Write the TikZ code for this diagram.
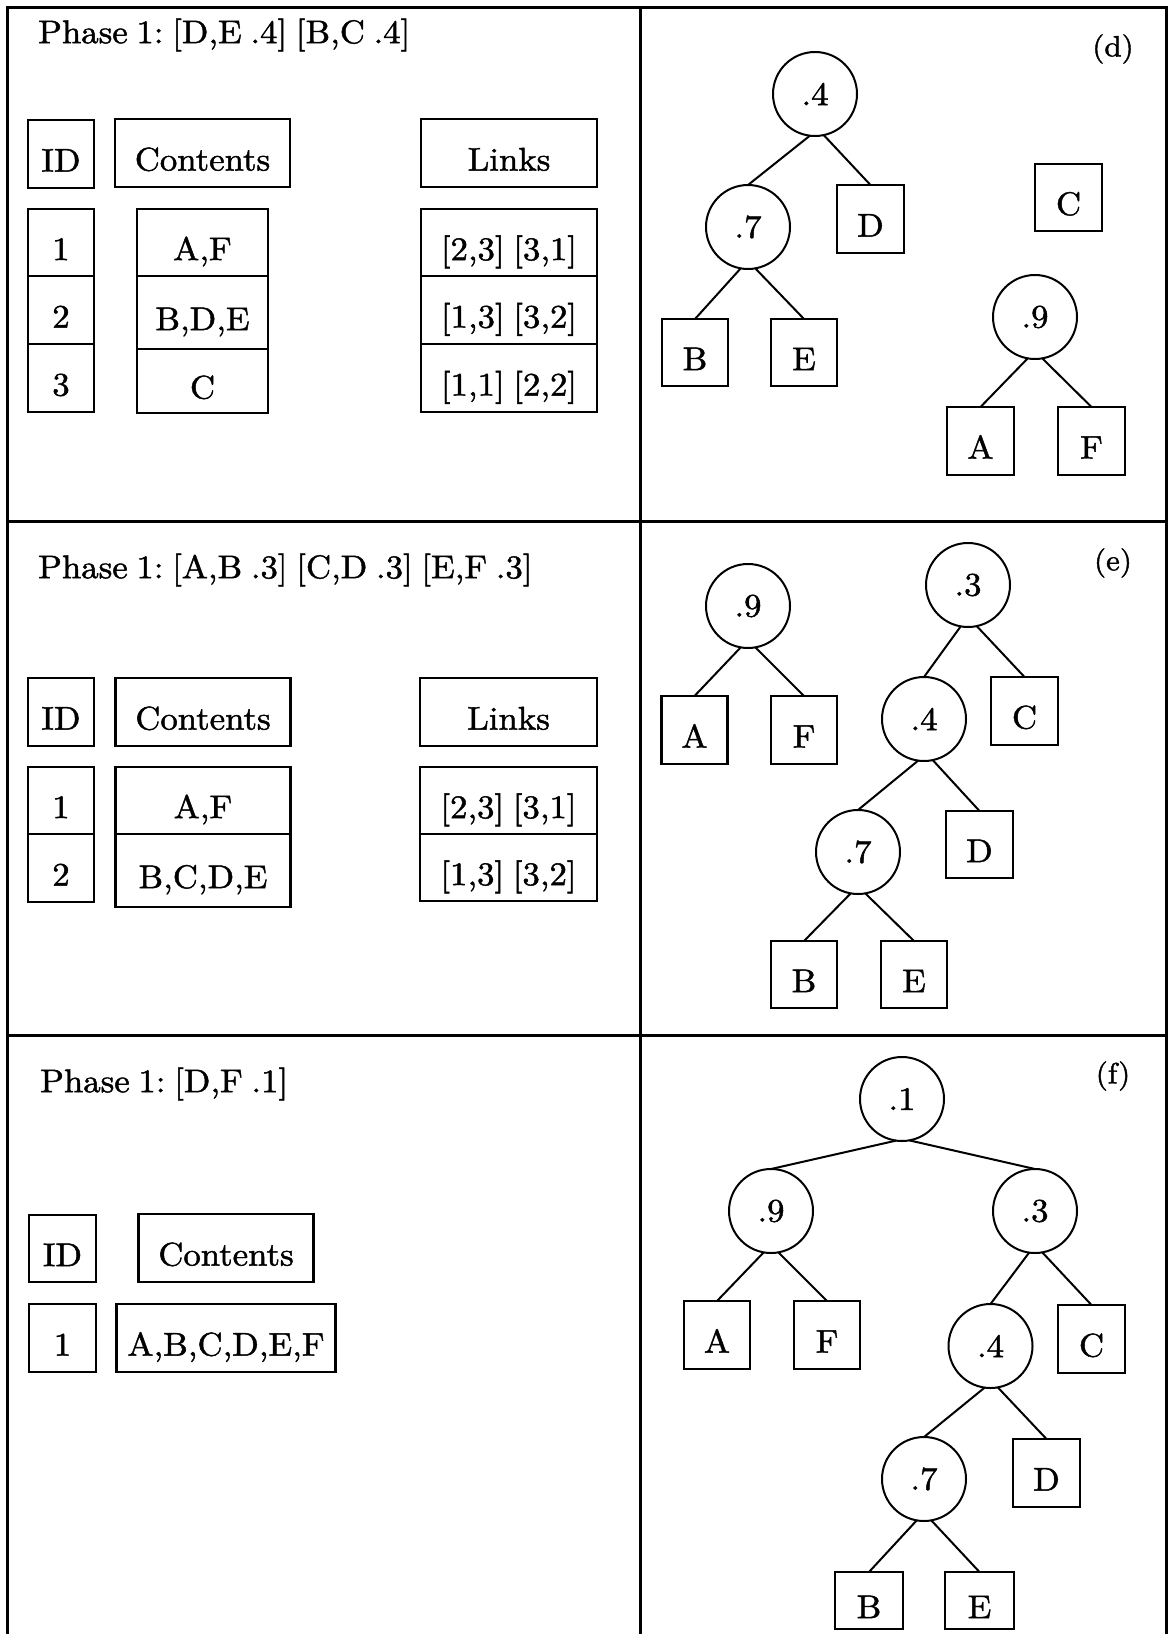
\documentclass[tikz,border=0pt]{standalone}
\usepackage{fontspec}
\setmainfont{lmroman10-regular.otf}[FakeStretch=1.06, FakeBold=1.4, WordSpace=0.75]
\begin{document}
\frenchspacing
\begin{tikzpicture}[x=0.03cm, y=-0.03cm,
  frame/.style={line width=0.09cm},
  txt/.style={font=\fontsize{28}{32}\selectfont, inner sep=0pt, anchor=west},
  tag/.style={font=\fontsize{25}{29}\selectfont, inner sep=0pt},
  cell/.style 2 args={draw, rectangle, line width=0.07cm, minimum width=#1*0.03cm,
    minimum height=#2*0.03cm, inner sep=0pt, outer sep=0pt,
    text height=30pt, text depth=0pt,
    font=\fontsize{28}{32}\selectfont},
  wt/.style={draw, circle, line width=0.06cm, minimum size=84*0.03cm,
    inner sep=0pt, outer sep=0pt, font=\fontsize{28}{32}\selectfont},
  edge/.style={line width=0.06cm}]
\useasboundingbox (0,0) rectangle (1169,1634);

% outer frame and panel dividers
\draw[frame] (7,1634) -- (7,8) -- (1166,8) -- (1166,1634);
\draw[frame] (640,8) -- (640,1634);
\draw[frame] (7,521) -- (1166,521);
\draw[frame] (7,1035) -- (1166,1035);

% ---------------- panel (d): table ----------------
\node[txt] (dph) at (38,35) {Phase 1: [D,E .4] [B,C .4]};
\node[cell={66}{68}] (dIDh) at (61,154) {ID};
\node[cell={175}{68}] (dCh) at (202.5,153) {Contents};
\node[cell={176}{68}] (dLh) at (509,153) {Links};
\node[cell={66}{67}] (dID1) at (61,242.5) {1};
\node[cell={66}{68}] (dID2) at (61,310) {2};
\node[cell={66}{68}] (dID3) at (61,378) {3};
\node[cell={131}{67}] (dC1) at (202.5,242.5) {A,F};
\node[cell={131}{73}] (dC2) at (202.5,312.5) {B,D,E};
\node[cell={131}{64}] (dC3) at (202.5,381) {C};
\node[cell={176}{67}] (dL1) at (509,242.5) {[2,3] [3,1]};
\node[cell={176}{68}] (dL2) at (509,310) {[1,3] [3,2]};
\node[cell={176}{68}] (dL3) at (509,378) {[1,1] [2,2]};

% ---------------- panel (d): forest ----------------
\node[tag] (dtag) at (1113,49) {(d)};
\node[wt] (d4) at (815,94) {.4};
\node[wt] (d7) at (748,227) {.7};
\node[cell={67}{68}] (dD) at (870.5,219) {D};
\node[cell={66}{67}] (dB) at (695,352.5) {B};
\node[cell={66}{67}] (dE) at (804,352.5) {E};
\node[cell={67}{67}] (dC) at (1068.5,197.5) {C};
\node[wt] (d9) at (1035,317) {.9};
\node[cell={67}{68}] (dA) at (980.5,441) {A};
\node[cell={67}{68}] (dF) at (1091.5,441) {F};
\draw[edge] (d4.263) -- (d7.north);
\draw[edge] (d4.282) -- (dD.north);
\draw[edge] (d7.260) -- (dB.north);
\draw[edge] (d7.280) -- (dE.north);
\draw[edge] (d9.260) -- (dA.north);
\draw[edge] (d9.280) -- (dF.north);

% ---------------- panel (e): table ----------------
\node[txt] (eph) at (38,570) {Phase 1: [A,B .3] [C,D .3] [E,F .3]};
\node[cell={66}{68}] (eIDh) at (61,712) {ID};
\node[cell={175}{68}] (eCh) at (203,712) {Contents};
\node[cell={177}{68}] (eLh) at (508.5,712) {Links};
\node[cell={66}{67}] (eID1) at (61,800.5) {1};
\node[cell={66}{68}] (eID2) at (61,868) {2};
\node[cell={175}{67}] (eC1) at (203,800.5) {A,F};
\node[cell={175}{73}] (eC2) at (203,870.5) {B,C,D,E};
\node[cell={177}{67}] (eL1) at (508.5,800.5) {[2,3] [3,1]};
\node[cell={177}{67}] (eL2) at (508.5,867.5) {[1,3] [3,2]};

% ---------------- panel (e): forest ----------------
\node[tag] (etag) at (1113,563) {(e)};
\node[wt] (e9) at (748,606) {.9};
\node[cell={66}{68}] (eA) at (694.5,730) {A};
\node[cell={66}{68}] (eF) at (804,730) {F};
\node[wt] (e3) at (968,585) {.3};
\node[cell={67}{68}] (eC) at (1024.5,711) {C};
\node[wt] (e4) at (924,719) {.4};
\node[cell={67}{67}] (eD) at (979.5,844.5) {D};
\node[wt] (e7) at (858,852) {.7};
\node[cell={66}{67}] (eB) at (804,974.5) {B};
\node[cell={66}{67}] (eE) at (914,974.5) {E};
\draw[edge] (e9.260) -- (eA.north);
\draw[edge] (e9.280) -- (eF.north);
\draw[edge] (e3.260) -- (e4.north);
\draw[edge] (e3.282) -- (eC.north);
\draw[edge] (e4.262) -- (e7.north);
\draw[edge] (e4.282) -- (eD.north);
\draw[edge] (e7.260) -- (eB.north);
\draw[edge] (e7.280) -- (eE.north);

% ---------------- panel (f): table ----------------
\node[txt] (fph) at (40,1084) {Phase 1: [D,F .1]};
\node[cell={67}{67}] (fIDh) at (62.5,1248.5) {ID};
\node[cell={175}{68}] (fCh) at (226,1248) {Contents};
\node[cell={67}{68}] (fID1) at (62.5,1338) {1};
\node[cell={219}{68}] (fC1) at (226,1338) {A,B,C,D,E,F};

% ---------------- panel (f): tree ----------------
\node[tag] (ftag) at (1113,1076) {(f)};
\node[wt] (f1) at (902,1099) {.1};
\node[wt] (f9) at (771,1211) {.9};
\node[wt] (f3) at (1035,1211) {.3};
\node[cell={66}{68}] (fA) at (717,1335) {A};
\node[cell={66}{68}] (fF) at (827,1335) {F};
\node[wt] (f4) at (990.5,1346) {.4};
\node[cell={67}{68}] (fC) at (1091.5,1339) {C};
\node[cell={67}{68}] (fD) at (1046.5,1473) {D};
\node[wt] (f7) at (924,1479) {.7};
\node[cell={68}{57}] (fB) at (869,1600.5) {B};
\node[cell={69}{57}] (fE) at (979.5,1600.5) {E};
\draw[edge] (f1.262) -- (f9.north);
\draw[edge] (f1.280) -- (f3.north);
\draw[edge] (f9.260) -- (fA.north);
\draw[edge] (f9.280) -- (fF.north);
\draw[edge] (f3.262) -- (f4.north);
\draw[edge] (f3.280) -- (fC.north);
\draw[edge] (f4.262) -- (f7.north);
\draw[edge] (f4.280) -- (fD.north);
\draw[edge] (f7.260) -- (fB.north);
\draw[edge] (f7.280) -- (fE.north);
\end{tikzpicture}
\end{document}
